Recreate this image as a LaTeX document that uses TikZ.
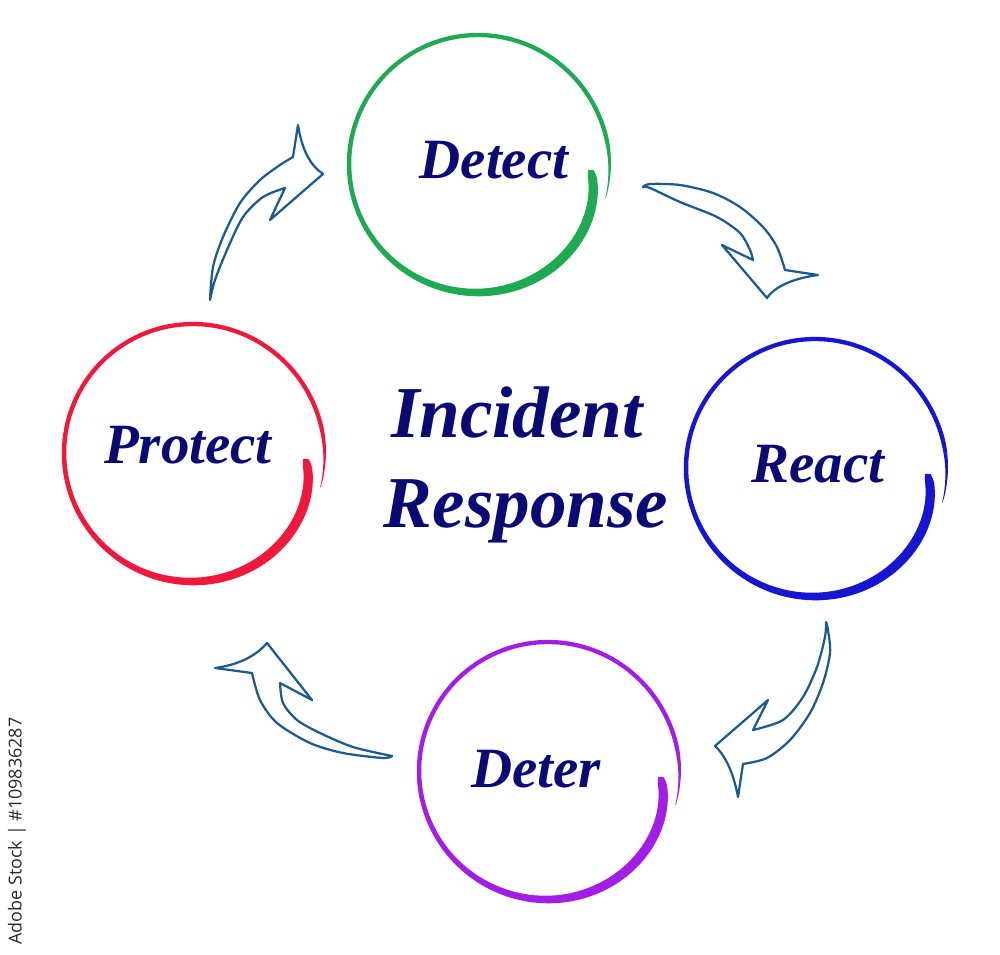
\documentclass[tikz,border=0pt]{standalone}
\usepackage{fontspec}
\setmainfont{Liberation Serif}
\newfontfamily\wmfont{Open Sans}
\definecolor{navytext}{HTML}{0A0A74}
\definecolor{ringgreen}{HTML}{1DAA52}
\definecolor{ringred}{HTML}{F0183C}
\definecolor{ringblue}{HTML}{1616D2}
\definecolor{ringpurple}{HTML}{A21EE6}
\definecolor{arrowblue}{HTML}{1B5B8F}
\definecolor{wmgray}{HTML}{2A2A2A}
\newcommand{\brushring}[3]{%
  \fill[#3] plot[domain=0:372, samples=180, variable=\t]
    ({#1+(rr(\t)+ww(\t)/2)*cos(-3-\t)}, {#2-(rr(\t)+ww(\t)/2)*sin(-3-\t)})
    -- plot[domain=372:0, samples=180, variable=\t]
    ({#1+(rr(\t)-ww(\t)/2)*cos(-3-\t)}, {#2-(rr(\t)-ww(\t)/2)*sin(-3-\t)}) -- cycle;}
\begin{document}
\begin{tikzpicture}[x=0.05cm,y=-0.05cm,
  declare function={
    rr(\s)=129-16*exp(-\s/25)+3*exp(-(((372-\s)/40)^2));
    ww(\s)=(4.3+5.5*exp(-(((\s-30)/80)^2)))*min(1,0.6+\s/8)*min(1,(376-\s)/30);
  },
  lbl/.style={text=navytext, font=\fontsize{81}{81}\selectfont\bfseries\itshape, anchor=base, inner sep=0pt},
  title/.style={text=navytext, font=\fontsize{104}{104}\selectfont\bfseries\itshape, anchor=base, inner sep=0pt},
  blockarrow/.style={draw=arrowblue, line width=3.2pt, fill=white, line join=round}]
\fill[white] (0,0) rectangle (1000,954);
\useasboundingbox (0,0) rectangle (1000,954);

% rings
\brushring{478}{164}{ringgreen}
\brushring{193}{453}{ringred}
\brushring{815}{468}{ringblue}
\brushring{548}{771}{ringpurple}

% labels
\node[lbl] (detect) at (494,178) {Detect};
\node[lbl] (protect) at (188,463) {Protect};
\node[lbl] (react) at (818,482) {React};
\node[lbl] (deter) at (536,787) {Deter};
\node[title] (incident) at (517,437) {Incident};
\node[title] (response) at (526,527) {Response};

% arrow: Protect -> Detect
\draw[blockarrow] plot[smooth] coordinates {(210,300) (213,267) (223,237) (240,203) (260,180) (280,165) (293,157)}
  -- (298,125) .. controls (302,150) and (310,165) .. (323,174)
  -- (270,220) -- (285,188)
  -- plot[smooth] coordinates {(285,188) (263,197) (243,217) (227,250) (215,280) (210,300)} -- cycle;

% arrow: Detect -> React
\draw[blockarrow] plot[smooth] coordinates {(643,187) (650,184) (680,185) (713,193) (740,207) (763,227) (777,247) (785,270)}
  -- (818,275) .. controls (795,278) and (775,286) .. (767,298)
  -- (722,245) -- (753,260)
  -- plot[smooth] coordinates {(753,260) (750,250) (740,233) (717,217) (680,202) (650,188) (643,187)} -- cycle;

% arrow: React -> Deter
\draw[blockarrow] plot[smooth] coordinates {(826,622) (828,630) (830,653) (823,683) (810,713) (790,740) (767,758) (743,764)}
  -- (738,797) .. controls (734,775) and (726,756) .. (715,746)
  -- (768,700) -- (753,730)
  -- plot[smooth] coordinates {(753,730) (783,720) (803,697) (817,667) (825,637) (826,622)} -- cycle;

% arrow: Deter -> Protect
\draw[blockarrow] plot[smooth] coordinates {(392,756) (383,758) (343,753) (310,743) (277,723) (260,700) (252,673)}
  -- (215,668) .. controls (237,665) and (255,657) .. (267,643)
  -- (312,700) -- (280,683)
  -- plot[smooth] coordinates {(280,683) (283,703) (297,720) (320,733) (353,747) (392,756)} -- cycle;

% side credit
\node[text=wmgray, font=\wmfont\fontsize{25.5}{25.5}\selectfont, rotate=90, inner sep=0pt] (credit) at (17,831) {Adobe Stock | \#109836287};
\end{tikzpicture}
\end{document}
